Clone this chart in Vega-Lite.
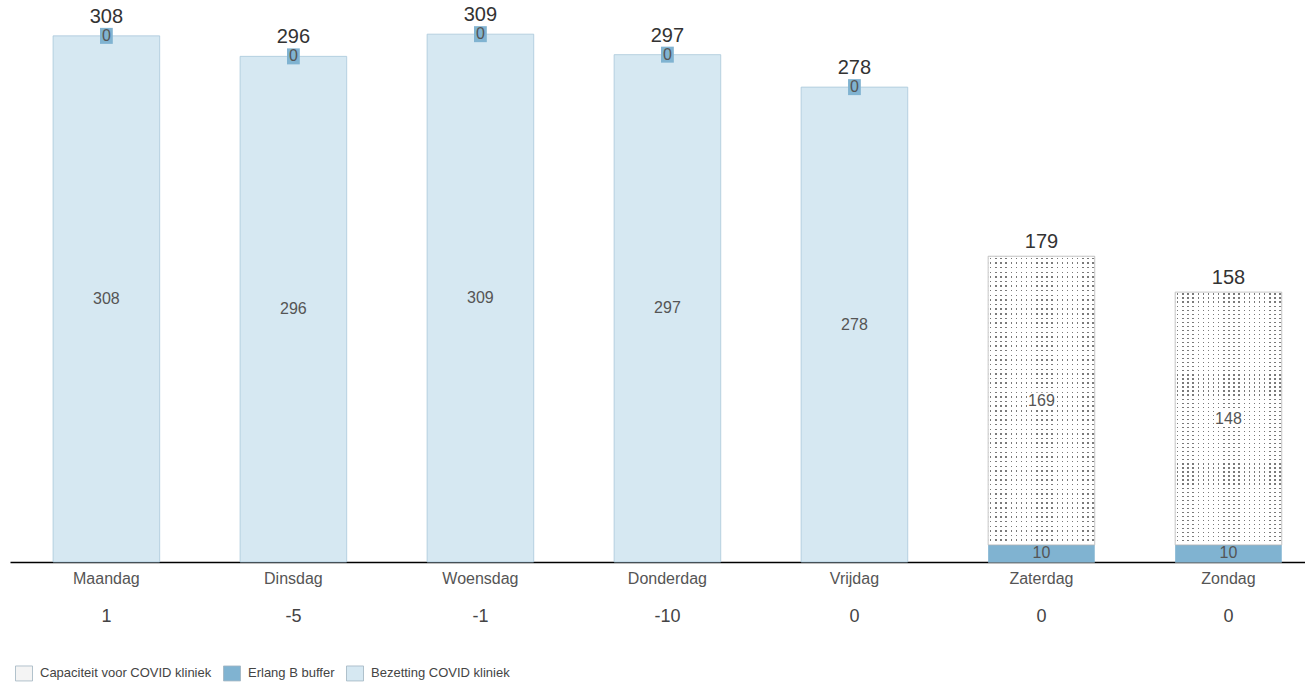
{
  "$schema": "https://vega.github.io/schema/vega-lite/v6.json",
  "width": 1296,
  "height": 562,
  "autosize": {"type": "none"},
  "padding": {"left": 10, "top": 0, "right": 0, "bottom": 127},
  "background": "white",
  "config": {"view": {"stroke": null}, "font": "Liberation Sans"},
  "data": {"values": [
    {"day": "Maandag", "Bezetting COVID kliniek": 308, "Erlang B buffer": 0, "Capaciteit voor COVID kliniek": 0, "totaal": 308, "verschil": "1"},
    {"day": "Dinsdag", "Bezetting COVID kliniek": 296, "Erlang B buffer": 0, "Capaciteit voor COVID kliniek": 0, "totaal": 296, "verschil": "-5"},
    {"day": "Woensdag", "Bezetting COVID kliniek": 309, "Erlang B buffer": 0, "Capaciteit voor COVID kliniek": 0, "totaal": 309, "verschil": "-1"},
    {"day": "Donderdag", "Bezetting COVID kliniek": 297, "Erlang B buffer": 0, "Capaciteit voor COVID kliniek": 0, "totaal": 297, "verschil": "-10"},
    {"day": "Vrijdag", "Bezetting COVID kliniek": 278, "Erlang B buffer": 0, "Capaciteit voor COVID kliniek": 0, "totaal": 278, "verschil": "0"},
    {"day": "Zaterdag", "Bezetting COVID kliniek": 0, "Erlang B buffer": 10, "Capaciteit voor COVID kliniek": 169, "totaal": 179, "verschil": "0"},
    {"day": "Zondag", "Bezetting COVID kliniek": 0, "Erlang B buffer": 10, "Capaciteit voor COVID kliniek": 148, "totaal": 158, "verschil": "0"}
  ]},
  "transform": [
    {"fold": ["Bezetting COVID kliniek", "Erlang B buffer", "Capaciteit voor COVID kliniek"], "as": ["series", "value"]},
    {"stack": "value", "groupby": ["day"], "as": ["v0", "v1"]}
  ],
  "encoding": {
    "x": {
      "field": "day", "type": "nominal", "sort": null,
      "scale": {"domain": ["Maandag", "Dinsdag", "Woensdag", "Donderdag", "Vrijdag", "Zaterdag", "Zondag"], "paddingInner": 0.43, "paddingOuter": 0.18, "align": 0.64},
      "axis": {"title": null, "labelAngle": 0, "ticks": false, "domainColor": "#000000", "domainWidth": 1.5, "labelFontSize": 16, "labelColor": "#555555", "labelPadding": 8, "labelFont": "Liberation Sans"}
    }
  },
  "layer": [
    {
      "mark": {"type": "bar", "strokeWidth": 0.8},
      "encoding": {
        "y": {"field": "v0", "type": "quantitative", "scale": {"domain": [0, 329], "nice": false, "zero": false}, "axis": null},
        "y2": {"field": "v1"},
        "color": {
          "field": "series", "type": "nominal",
          "scale": {"domain": ["Capaciteit voor COVID kliniek", "Erlang B buffer", "Bezetting COVID kliniek"], "range": ["#f4f4f4", "#80b3d1", "#d6e8f2"]},
          "legend": {"title": null, "orient": "none", "legendX": 5, "legendY": 664, "direction": "horizontal", "symbolType": "M-1,-0.88H1V0.88H-1Z", "symbolSize": 289, "symbolStrokeColor": "#a0b4c0", "symbolStrokeWidth": 0.8, "symbolOpacity": 1, "labelFontSize": 13, "labelColor": "#444444", "labelFont": "Liberation Sans", "labelLimit": 0, "columnPadding": 9, "labelOffset": 7, "padding": 0}
        },
        "stroke": {"condition": {"test": "datum.series === 'Bezetting COVID kliniek'", "value": "#a9c8da"}, "value": "transparent"}
      }
    },
    {
      "transform": [{"filter": "datum.series === 'Capaciteit voor COVID kliniek' && datum.value > 0"}],
      "mark": {"type": "bar", "fill": "#7a7a7a"},
      "encoding": {"y": {"field": "v0", "type": "quantitative"}, "y2": {"field": "v1"}}
    },
    {
      "transform": [{"filter": "datum.series === 'Capaciteit voor COVID kliniek' && datum.value > 0"}],
      "mark": {"type": "bar", "fill": {"gradient": "linear", "x1": 0, "y1": 0, "x2": 1, "y2": 0, "stops": [
        {"offset": 0, "color": "#fff"},
        {"offset": 0.018, "color": "#fff"}, {"offset": 0.018, "color": "rgba(0,0,0,0)"}, {"offset": 0.031, "color": "rgba(0,0,0,0)"}, {"offset": 0.031, "color": "#fff"},
        {"offset": 0.066, "color": "#fff"}, {"offset": 0.066, "color": "rgba(0,0,0,0)"}, {"offset": 0.079, "color": "rgba(0,0,0,0)"}, {"offset": 0.079, "color": "#fff"},
        {"offset": 0.114, "color": "#fff"}, {"offset": 0.114, "color": "rgba(0,0,0,0)"}, {"offset": 0.127, "color": "rgba(0,0,0,0)"}, {"offset": 0.127, "color": "#fff"},
        {"offset": 0.162, "color": "#fff"}, {"offset": 0.162, "color": "rgba(0,0,0,0)"}, {"offset": 0.175, "color": "rgba(0,0,0,0)"}, {"offset": 0.175, "color": "#fff"},
        {"offset": 0.21, "color": "#fff"}, {"offset": 0.21, "color": "rgba(0,0,0,0)"}, {"offset": 0.223, "color": "rgba(0,0,0,0)"}, {"offset": 0.223, "color": "#fff"},
        {"offset": 0.258, "color": "#fff"}, {"offset": 0.258, "color": "rgba(0,0,0,0)"}, {"offset": 0.271, "color": "rgba(0,0,0,0)"}, {"offset": 0.271, "color": "#fff"},
        {"offset": 0.306, "color": "#fff"}, {"offset": 0.306, "color": "rgba(0,0,0,0)"}, {"offset": 0.319, "color": "rgba(0,0,0,0)"}, {"offset": 0.319, "color": "#fff"},
        {"offset": 0.354, "color": "#fff"}, {"offset": 0.354, "color": "rgba(0,0,0,0)"}, {"offset": 0.367, "color": "rgba(0,0,0,0)"}, {"offset": 0.367, "color": "#fff"},
        {"offset": 0.402, "color": "#fff"}, {"offset": 0.402, "color": "rgba(0,0,0,0)"}, {"offset": 0.415, "color": "rgba(0,0,0,0)"}, {"offset": 0.415, "color": "#fff"},
        {"offset": 0.45, "color": "#fff"}, {"offset": 0.45, "color": "rgba(0,0,0,0)"}, {"offset": 0.463, "color": "rgba(0,0,0,0)"}, {"offset": 0.463, "color": "#fff"},
        {"offset": 0.498, "color": "#fff"}, {"offset": 0.498, "color": "rgba(0,0,0,0)"}, {"offset": 0.511, "color": "rgba(0,0,0,0)"}, {"offset": 0.511, "color": "#fff"},
        {"offset": 0.546, "color": "#fff"}, {"offset": 0.546, "color": "rgba(0,0,0,0)"}, {"offset": 0.559, "color": "rgba(0,0,0,0)"}, {"offset": 0.559, "color": "#fff"},
        {"offset": 0.594, "color": "#fff"}, {"offset": 0.594, "color": "rgba(0,0,0,0)"}, {"offset": 0.607, "color": "rgba(0,0,0,0)"}, {"offset": 0.607, "color": "#fff"},
        {"offset": 0.642, "color": "#fff"}, {"offset": 0.642, "color": "rgba(0,0,0,0)"}, {"offset": 0.655, "color": "rgba(0,0,0,0)"}, {"offset": 0.655, "color": "#fff"},
        {"offset": 0.69, "color": "#fff"}, {"offset": 0.69, "color": "rgba(0,0,0,0)"}, {"offset": 0.703, "color": "rgba(0,0,0,0)"}, {"offset": 0.703, "color": "#fff"},
        {"offset": 0.738, "color": "#fff"}, {"offset": 0.738, "color": "rgba(0,0,0,0)"}, {"offset": 0.751, "color": "rgba(0,0,0,0)"}, {"offset": 0.751, "color": "#fff"},
        {"offset": 0.786, "color": "#fff"}, {"offset": 0.786, "color": "rgba(0,0,0,0)"}, {"offset": 0.799, "color": "rgba(0,0,0,0)"}, {"offset": 0.799, "color": "#fff"},
        {"offset": 0.834, "color": "#fff"}, {"offset": 0.834, "color": "rgba(0,0,0,0)"}, {"offset": 0.847, "color": "rgba(0,0,0,0)"}, {"offset": 0.847, "color": "#fff"},
        {"offset": 0.882, "color": "#fff"}, {"offset": 0.882, "color": "rgba(0,0,0,0)"}, {"offset": 0.895, "color": "rgba(0,0,0,0)"}, {"offset": 0.895, "color": "#fff"},
        {"offset": 0.93, "color": "#fff"}, {"offset": 0.93, "color": "rgba(0,0,0,0)"}, {"offset": 0.943, "color": "rgba(0,0,0,0)"}, {"offset": 0.943, "color": "#fff"},
        {"offset": 0.978, "color": "#fff"}, {"offset": 0.978, "color": "rgba(0,0,0,0)"}, {"offset": 0.991, "color": "rgba(0,0,0,0)"}, {"offset": 0.991, "color": "#fff"},
        {"offset": 1, "color": "#fff"}
      ]}},
      "encoding": {"y": {"field": "v0", "type": "quantitative"}, "y2": {"field": "v1"}}
    },
    {
      "transform": [{"filter": "datum.series === 'Capaciteit voor COVID kliniek' && datum.value > 0"}],
      "mark": {"type": "bar", "stroke": "#b8b8b8", "strokeWidth": 0.8, "fill": {"gradient": "linear", "x1": 0, "y1": 0, "x2": 0, "y2": 1, "stops": [
        {"offset": 0, "color": "#fff"},
        {"offset": 0.005, "color": "#fff"}, {"offset": 0.005, "color": "rgba(0,0,0,0)"}, {"offset": 0.01, "color": "rgba(0,0,0,0)"}, {"offset": 0.01, "color": "#fff"},
        {"offset": 0.021, "color": "#fff"}, {"offset": 0.021, "color": "rgba(0,0,0,0)"}, {"offset": 0.026, "color": "rgba(0,0,0,0)"}, {"offset": 0.026, "color": "#fff"},
        {"offset": 0.037, "color": "#fff"}, {"offset": 0.037, "color": "rgba(0,0,0,0)"}, {"offset": 0.042, "color": "rgba(0,0,0,0)"}, {"offset": 0.042, "color": "#fff"},
        {"offset": 0.053, "color": "#fff"}, {"offset": 0.053, "color": "rgba(0,0,0,0)"}, {"offset": 0.058, "color": "rgba(0,0,0,0)"}, {"offset": 0.058, "color": "#fff"},
        {"offset": 0.069, "color": "#fff"}, {"offset": 0.069, "color": "rgba(0,0,0,0)"}, {"offset": 0.074, "color": "rgba(0,0,0,0)"}, {"offset": 0.074, "color": "#fff"},
        {"offset": 0.085, "color": "#fff"}, {"offset": 0.085, "color": "rgba(0,0,0,0)"}, {"offset": 0.09, "color": "rgba(0,0,0,0)"}, {"offset": 0.09, "color": "#fff"},
        {"offset": 0.101, "color": "#fff"}, {"offset": 0.101, "color": "rgba(0,0,0,0)"}, {"offset": 0.106, "color": "rgba(0,0,0,0)"}, {"offset": 0.106, "color": "#fff"},
        {"offset": 0.117, "color": "#fff"}, {"offset": 0.117, "color": "rgba(0,0,0,0)"}, {"offset": 0.122, "color": "rgba(0,0,0,0)"}, {"offset": 0.122, "color": "#fff"},
        {"offset": 0.133, "color": "#fff"}, {"offset": 0.133, "color": "rgba(0,0,0,0)"}, {"offset": 0.138, "color": "rgba(0,0,0,0)"}, {"offset": 0.138, "color": "#fff"},
        {"offset": 0.149, "color": "#fff"}, {"offset": 0.149, "color": "rgba(0,0,0,0)"}, {"offset": 0.154, "color": "rgba(0,0,0,0)"}, {"offset": 0.154, "color": "#fff"},
        {"offset": 0.165, "color": "#fff"}, {"offset": 0.165, "color": "rgba(0,0,0,0)"}, {"offset": 0.17, "color": "rgba(0,0,0,0)"}, {"offset": 0.17, "color": "#fff"},
        {"offset": 0.181, "color": "#fff"}, {"offset": 0.181, "color": "rgba(0,0,0,0)"}, {"offset": 0.186, "color": "rgba(0,0,0,0)"}, {"offset": 0.186, "color": "#fff"},
        {"offset": 0.197, "color": "#fff"}, {"offset": 0.197, "color": "rgba(0,0,0,0)"}, {"offset": 0.202, "color": "rgba(0,0,0,0)"}, {"offset": 0.202, "color": "#fff"},
        {"offset": 0.213, "color": "#fff"}, {"offset": 0.213, "color": "rgba(0,0,0,0)"}, {"offset": 0.218, "color": "rgba(0,0,0,0)"}, {"offset": 0.218, "color": "#fff"},
        {"offset": 0.229, "color": "#fff"}, {"offset": 0.229, "color": "rgba(0,0,0,0)"}, {"offset": 0.234, "color": "rgba(0,0,0,0)"}, {"offset": 0.234, "color": "#fff"},
        {"offset": 0.245, "color": "#fff"}, {"offset": 0.245, "color": "rgba(0,0,0,0)"}, {"offset": 0.25, "color": "rgba(0,0,0,0)"}, {"offset": 0.25, "color": "#fff"},
        {"offset": 0.261, "color": "#fff"}, {"offset": 0.261, "color": "rgba(0,0,0,0)"}, {"offset": 0.266, "color": "rgba(0,0,0,0)"}, {"offset": 0.266, "color": "#fff"},
        {"offset": 0.277, "color": "#fff"}, {"offset": 0.277, "color": "rgba(0,0,0,0)"}, {"offset": 0.282, "color": "rgba(0,0,0,0)"}, {"offset": 0.282, "color": "#fff"},
        {"offset": 0.293, "color": "#fff"}, {"offset": 0.293, "color": "rgba(0,0,0,0)"}, {"offset": 0.298, "color": "rgba(0,0,0,0)"}, {"offset": 0.298, "color": "#fff"},
        {"offset": 0.309, "color": "#fff"}, {"offset": 0.309, "color": "rgba(0,0,0,0)"}, {"offset": 0.314, "color": "rgba(0,0,0,0)"}, {"offset": 0.314, "color": "#fff"},
        {"offset": 0.325, "color": "#fff"}, {"offset": 0.325, "color": "rgba(0,0,0,0)"}, {"offset": 0.33, "color": "rgba(0,0,0,0)"}, {"offset": 0.33, "color": "#fff"},
        {"offset": 0.341, "color": "#fff"}, {"offset": 0.341, "color": "rgba(0,0,0,0)"}, {"offset": 0.346, "color": "rgba(0,0,0,0)"}, {"offset": 0.346, "color": "#fff"},
        {"offset": 0.357, "color": "#fff"}, {"offset": 0.357, "color": "rgba(0,0,0,0)"}, {"offset": 0.362, "color": "rgba(0,0,0,0)"}, {"offset": 0.362, "color": "#fff"},
        {"offset": 0.373, "color": "#fff"}, {"offset": 0.373, "color": "rgba(0,0,0,0)"}, {"offset": 0.378, "color": "rgba(0,0,0,0)"}, {"offset": 0.378, "color": "#fff"},
        {"offset": 0.389, "color": "#fff"}, {"offset": 0.389, "color": "rgba(0,0,0,0)"}, {"offset": 0.394, "color": "rgba(0,0,0,0)"}, {"offset": 0.394, "color": "#fff"},
        {"offset": 0.405, "color": "#fff"}, {"offset": 0.405, "color": "rgba(0,0,0,0)"}, {"offset": 0.41, "color": "rgba(0,0,0,0)"}, {"offset": 0.41, "color": "#fff"},
        {"offset": 0.421, "color": "#fff"}, {"offset": 0.421, "color": "rgba(0,0,0,0)"}, {"offset": 0.426, "color": "rgba(0,0,0,0)"}, {"offset": 0.426, "color": "#fff"},
        {"offset": 0.437, "color": "#fff"}, {"offset": 0.437, "color": "rgba(0,0,0,0)"}, {"offset": 0.442, "color": "rgba(0,0,0,0)"}, {"offset": 0.442, "color": "#fff"},
        {"offset": 0.453, "color": "#fff"}, {"offset": 0.453, "color": "rgba(0,0,0,0)"}, {"offset": 0.458, "color": "rgba(0,0,0,0)"}, {"offset": 0.458, "color": "#fff"},
        {"offset": 0.469, "color": "#fff"}, {"offset": 0.469, "color": "rgba(0,0,0,0)"}, {"offset": 0.474, "color": "rgba(0,0,0,0)"}, {"offset": 0.474, "color": "#fff"},
        {"offset": 0.485, "color": "#fff"}, {"offset": 0.485, "color": "rgba(0,0,0,0)"}, {"offset": 0.49, "color": "rgba(0,0,0,0)"}, {"offset": 0.49, "color": "#fff"},
        {"offset": 0.501, "color": "#fff"}, {"offset": 0.501, "color": "rgba(0,0,0,0)"}, {"offset": 0.506, "color": "rgba(0,0,0,0)"}, {"offset": 0.506, "color": "#fff"},
        {"offset": 0.517, "color": "#fff"}, {"offset": 0.517, "color": "rgba(0,0,0,0)"}, {"offset": 0.522, "color": "rgba(0,0,0,0)"}, {"offset": 0.522, "color": "#fff"},
        {"offset": 0.533, "color": "#fff"}, {"offset": 0.533, "color": "rgba(0,0,0,0)"}, {"offset": 0.538, "color": "rgba(0,0,0,0)"}, {"offset": 0.538, "color": "#fff"},
        {"offset": 0.549, "color": "#fff"}, {"offset": 0.549, "color": "rgba(0,0,0,0)"}, {"offset": 0.554, "color": "rgba(0,0,0,0)"}, {"offset": 0.554, "color": "#fff"},
        {"offset": 0.565, "color": "#fff"}, {"offset": 0.565, "color": "rgba(0,0,0,0)"}, {"offset": 0.57, "color": "rgba(0,0,0,0)"}, {"offset": 0.57, "color": "#fff"},
        {"offset": 0.581, "color": "#fff"}, {"offset": 0.581, "color": "rgba(0,0,0,0)"}, {"offset": 0.586, "color": "rgba(0,0,0,0)"}, {"offset": 0.586, "color": "#fff"},
        {"offset": 0.597, "color": "#fff"}, {"offset": 0.597, "color": "rgba(0,0,0,0)"}, {"offset": 0.602, "color": "rgba(0,0,0,0)"}, {"offset": 0.602, "color": "#fff"},
        {"offset": 0.613, "color": "#fff"}, {"offset": 0.613, "color": "rgba(0,0,0,0)"}, {"offset": 0.618, "color": "rgba(0,0,0,0)"}, {"offset": 0.618, "color": "#fff"},
        {"offset": 0.629, "color": "#fff"}, {"offset": 0.629, "color": "rgba(0,0,0,0)"}, {"offset": 0.634, "color": "rgba(0,0,0,0)"}, {"offset": 0.634, "color": "#fff"},
        {"offset": 0.645, "color": "#fff"}, {"offset": 0.645, "color": "rgba(0,0,0,0)"}, {"offset": 0.65, "color": "rgba(0,0,0,0)"}, {"offset": 0.65, "color": "#fff"},
        {"offset": 0.661, "color": "#fff"}, {"offset": 0.661, "color": "rgba(0,0,0,0)"}, {"offset": 0.666, "color": "rgba(0,0,0,0)"}, {"offset": 0.666, "color": "#fff"},
        {"offset": 0.677, "color": "#fff"}, {"offset": 0.677, "color": "rgba(0,0,0,0)"}, {"offset": 0.682, "color": "rgba(0,0,0,0)"}, {"offset": 0.682, "color": "#fff"},
        {"offset": 0.693, "color": "#fff"}, {"offset": 0.693, "color": "rgba(0,0,0,0)"}, {"offset": 0.698, "color": "rgba(0,0,0,0)"}, {"offset": 0.698, "color": "#fff"},
        {"offset": 0.709, "color": "#fff"}, {"offset": 0.709, "color": "rgba(0,0,0,0)"}, {"offset": 0.714, "color": "rgba(0,0,0,0)"}, {"offset": 0.714, "color": "#fff"},
        {"offset": 0.725, "color": "#fff"}, {"offset": 0.725, "color": "rgba(0,0,0,0)"}, {"offset": 0.73, "color": "rgba(0,0,0,0)"}, {"offset": 0.73, "color": "#fff"},
        {"offset": 0.741, "color": "#fff"}, {"offset": 0.741, "color": "rgba(0,0,0,0)"}, {"offset": 0.746, "color": "rgba(0,0,0,0)"}, {"offset": 0.746, "color": "#fff"},
        {"offset": 0.757, "color": "#fff"}, {"offset": 0.757, "color": "rgba(0,0,0,0)"}, {"offset": 0.762, "color": "rgba(0,0,0,0)"}, {"offset": 0.762, "color": "#fff"},
        {"offset": 0.773, "color": "#fff"}, {"offset": 0.773, "color": "rgba(0,0,0,0)"}, {"offset": 0.778, "color": "rgba(0,0,0,0)"}, {"offset": 0.778, "color": "#fff"},
        {"offset": 0.789, "color": "#fff"}, {"offset": 0.789, "color": "rgba(0,0,0,0)"}, {"offset": 0.794, "color": "rgba(0,0,0,0)"}, {"offset": 0.794, "color": "#fff"},
        {"offset": 0.805, "color": "#fff"}, {"offset": 0.805, "color": "rgba(0,0,0,0)"}, {"offset": 0.81, "color": "rgba(0,0,0,0)"}, {"offset": 0.81, "color": "#fff"},
        {"offset": 0.821, "color": "#fff"}, {"offset": 0.821, "color": "rgba(0,0,0,0)"}, {"offset": 0.826, "color": "rgba(0,0,0,0)"}, {"offset": 0.826, "color": "#fff"},
        {"offset": 0.837, "color": "#fff"}, {"offset": 0.837, "color": "rgba(0,0,0,0)"}, {"offset": 0.842, "color": "rgba(0,0,0,0)"}, {"offset": 0.842, "color": "#fff"},
        {"offset": 0.853, "color": "#fff"}, {"offset": 0.853, "color": "rgba(0,0,0,0)"}, {"offset": 0.858, "color": "rgba(0,0,0,0)"}, {"offset": 0.858, "color": "#fff"},
        {"offset": 0.869, "color": "#fff"}, {"offset": 0.869, "color": "rgba(0,0,0,0)"}, {"offset": 0.874, "color": "rgba(0,0,0,0)"}, {"offset": 0.874, "color": "#fff"},
        {"offset": 0.885, "color": "#fff"}, {"offset": 0.885, "color": "rgba(0,0,0,0)"}, {"offset": 0.89, "color": "rgba(0,0,0,0)"}, {"offset": 0.89, "color": "#fff"},
        {"offset": 0.901, "color": "#fff"}, {"offset": 0.901, "color": "rgba(0,0,0,0)"}, {"offset": 0.906, "color": "rgba(0,0,0,0)"}, {"offset": 0.906, "color": "#fff"},
        {"offset": 0.917, "color": "#fff"}, {"offset": 0.917, "color": "rgba(0,0,0,0)"}, {"offset": 0.922, "color": "rgba(0,0,0,0)"}, {"offset": 0.922, "color": "#fff"},
        {"offset": 0.933, "color": "#fff"}, {"offset": 0.933, "color": "rgba(0,0,0,0)"}, {"offset": 0.938, "color": "rgba(0,0,0,0)"}, {"offset": 0.938, "color": "#fff"},
        {"offset": 0.949, "color": "#fff"}, {"offset": 0.949, "color": "rgba(0,0,0,0)"}, {"offset": 0.954, "color": "rgba(0,0,0,0)"}, {"offset": 0.954, "color": "#fff"},
        {"offset": 0.965, "color": "#fff"}, {"offset": 0.965, "color": "rgba(0,0,0,0)"}, {"offset": 0.97, "color": "rgba(0,0,0,0)"}, {"offset": 0.97, "color": "#fff"},
        {"offset": 0.981, "color": "#fff"}, {"offset": 0.981, "color": "rgba(0,0,0,0)"}, {"offset": 0.986, "color": "rgba(0,0,0,0)"}, {"offset": 0.986, "color": "#fff"},
        {"offset": 1, "color": "#fff"}
      ]}},
      "encoding": {"y": {"field": "v0", "type": "quantitative"}, "y2": {"field": "v1"}}
    },
    {
      "transform": [
        {"filter": "datum.series === 'Erlang B buffer' && datum.value === 0"},
        {"fold": ["v0", "v1"], "as": ["edge", "pos"]},
        {"aggregate": [{"op": "mean", "field": "pos", "as": "mid"}], "groupby": ["day", "series", "value"]}
      ],
      "mark": {"type": "point", "shape": "M-0.8,-1H0.8V1H-0.8Z", "size": 256, "filled": true, "fill": "#80b3d1", "opacity": 1, "strokeWidth": 0},
      "encoding": {"y": {"field": "mid", "type": "quantitative"}}
    },
    {
      "transform": [
        {"filter": "datum.series === 'Capaciteit voor COVID kliniek' && datum.value > 0"},
        {"fold": ["v0", "v1"], "as": ["edge", "pos"]},
        {"aggregate": [{"op": "mean", "field": "pos", "as": "mid"}], "groupby": ["day", "series", "value"]}
      ],
      "mark": {"type": "point", "shape": "M-1,-0.57H1V0.57H-1Z", "size": 784, "filled": true, "fill": "#ffffff", "opacity": 1, "strokeWidth": 0},
      "encoding": {"y": {"field": "mid", "type": "quantitative"}}
    },
    {
      "transform": [
        {"filter": "datum.value > 0 || datum.series === 'Erlang B buffer'"},
        {"fold": ["v0", "v1"], "as": ["edge", "pos"]},
        {"aggregate": [{"op": "mean", "field": "pos", "as": "mid"}], "groupby": ["day", "series", "value"]}
      ],
      "mark": {"type": "text", "fontSize": 16, "color": "#555555", "baseline": "middle", "align": "center"},
      "encoding": {"y": {"field": "mid", "type": "quantitative"}, "text": {"field": "value", "type": "quantitative"}}
    },
    {
      "transform": [{"filter": "datum.series === 'Bezetting COVID kliniek' && datum['Erlang B buffer'] === 0"}],
      "mark": {"type": "text", "fontSize": 20, "color": "#333333", "baseline": "middle", "align": "center", "dy": -19},
      "encoding": {"y": {"field": "totaal", "type": "quantitative"}, "text": {"field": "totaal", "type": "quantitative"}}
    },
    {
      "transform": [{"filter": "datum.series === 'Bezetting COVID kliniek' && datum['Erlang B buffer'] > 0"}],
      "mark": {"type": "text", "fontSize": 20, "color": "#333333", "baseline": "middle", "align": "center", "dy": -14},
      "encoding": {"y": {"field": "totaal", "type": "quantitative"}, "text": {"field": "totaal", "type": "quantitative"}}
    },
    {
      "transform": [{"filter": "datum.series === 'Bezetting COVID kliniek'"}],
      "mark": {"type": "text", "fontSize": 18, "color": "#444444", "baseline": "middle", "align": "center"},
      "encoding": {"y": {"datum": -32.2, "type": "quantitative"}, "text": {"field": "verschil", "type": "nominal"}}
    }
  ]
}
